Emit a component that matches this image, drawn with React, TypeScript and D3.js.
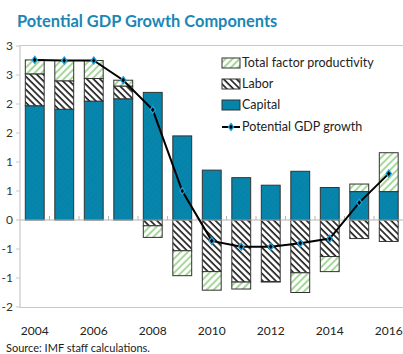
import React from "react";
import * as d3 from "d3";

const years = [2004, 2005, 2006, 2007, 2008, 2009, 2010, 2011, 2012, 2013, 2014, 2015, 2016];
const capital = [1.97, 1.91, 2.05, 2.09, 2.2, 1.45, 0.86, 0.73, 0.6, 0.84, 0.56, 0.49, 0.49];
const labor = [0.55, 0.49, 0.39, 0.22, -0.1, -0.53, -0.89, -1.07, -1.06, -0.91, -0.63, -0.32, -0.37];
const tfp = [0.24, 0.35, 0.31, 0.1, -0.2, -0.43, -0.32, -0.12, -0.01, -0.34, -0.26, 0.13, 0.67];
const potential = [2.76, 2.75, 2.75, 2.41, 1.9, 0.5, -0.36, -0.46, -0.46, -0.4, -0.32, 0.3, 0.8];
const yTicks = [3, 2.5, 2, 1.5, 1, 0.5, 0, -0.5, -1, -1.5];
const yTickLabels = ["3", "3", "2", "2", "1", "1", "0", "-1", "-1", "-2"];
const xLabelYears = [2004, 2006, 2008, 2010, 2012, 2014, 2016];
const seriesKeys = ["capital", "labor", "tfp"];
const legendItems = ["Total factor productivity", "Labor", "Capital", "Potential GDP growth"];

const W = 403;
const H = 354;
const FONT = "Lato, 'Open Sans', sans-serif";
const BLUE = "#0686ad";

export default function App() {
  const x = d3
    .scaleBand<number>()
    .domain(years)
    .range([20, 403.5])
    .paddingInner(0.36)
    .paddingOuter(0.18);
  const y = d3.scaleLinear().domain([-1.5, 3]).range([307, 46]);

  const table = years.map((yr, i) => ({ year: yr, capital: capital[i], labor: labor[i], tfp: tfp[i] }));
  const stacked = d3
    .stack<any>()
    .keys(seriesKeys)
    .offset(d3.stackOffsetDiverging)(table);

  const fills: Record<string, string> = {
    capital: "url(#capPat)",
    labor: "url(#laborPat)",
    tfp: "url(#tfpPat)",
  };

  const line = d3
    .line<number>()
    .x((_, i) => (x(years[i]) as number) + x.bandwidth() / 2)
    .y((d) => y(d));

  const diamond = (cx: number, cy: number) =>
    `M${cx},${cy - 3.5}L${cx + 2.6},${cy}L${cx},${cy + 3.5}L${cx - 2.6},${cy}Z`;

  const step = x.step();
  const boundaries = years.slice(1).map((yr) => (x(yr) as number) - (step - x.bandwidth()) / 2);

  const legendX = 222;
  const legendY = [63, 84, 105, 127];

  return (
    <svg
      width={W}
      height={H}
      style={{ position: "fixed", left: 0, top: 0, background: "#fff" }}
      fontFamily={FONT}
    >
      <defs>
        <pattern id="capPat" patternUnits="userSpaceOnUse" width="4" height="4" patternTransform="rotate(45)">
          <rect width="4" height="4" fill={BLUE} />
          <line x1="0" y1="0" x2="0" y2="4" stroke="#0a7ea3" strokeWidth="1.5" />
        </pattern>
        <pattern id="laborPat" patternUnits="userSpaceOnUse" width="4.6" height="4.6" patternTransform="rotate(-45)">
          <rect width="4.6" height="4.6" fill="#fff" />
          <line x1="1" y1="0" x2="1" y2="4.6" stroke="#222" strokeWidth="1.7" />
        </pattern>
        <pattern id="tfpPat" patternUnits="userSpaceOnUse" width="5" height="5" patternTransform="rotate(45)">
          <rect width="5" height="5" fill="#fff" />
          <line x1="1" y1="0" x2="1" y2="5" stroke="#a6d89a" strokeWidth="2" />
        </pattern>
      </defs>

      <text x={17} y={27} fontSize={16.4} fontWeight={700} fill="#1a87b5">
        Potential GDP Growth Components
      </text>

      {/* plot frame */}
      <line x1={20} x2={W} y1={y(3) - 0.5} y2={y(3) - 0.5} stroke="#c8c8c8" strokeWidth={1.2} />
      <line x1={20} x2={W} y1={y(-1.5) + 0.5} y2={y(-1.5) + 0.5} stroke="#c8c8c8" strokeWidth={1.2} />
      <line x1={20} x2={20} y1={y(3) - 0.5} y2={y(-1.5) + 0.5} stroke="#c8c8c8" strokeWidth={1.2} />

      {/* y ticks */}
      {yTicks.map((t, i) => (
        <g key={t}>
          <line x1={16} x2={20} y1={y(t)} y2={y(t)} stroke="#c8c8c8" />
          <text x={13} y={y(t)} dy="0.35em" textAnchor="end" fontSize={12} fill="#333">
            {yTickLabels[i]}
          </text>
        </g>
      ))}

      {/* bars */}
      {stacked.map((s) => (
        <g key={s.key}>
          {s.map((d, i) => {
            const y0 = y(Math.max(d[0], d[1]));
            const y1 = y(Math.min(d[0], d[1]));
            if (Math.abs(y1 - y0) < 0.01) return null;
            return (
              <rect
                key={i}
                x={x(years[i])}
                y={y0}
                width={x.bandwidth()}
                height={y1 - y0}
                fill={fills[s.key]}
                stroke="#333"
                strokeWidth={1}
              />
            );
          })}
        </g>
      ))}

      {/* zero axis */}
      <line x1={20} x2={W} y1={y(0)} y2={y(0)} stroke="#b5b5b5" strokeWidth={1.2} />
      {boundaries.map((b, i) => (
        <line key={i} x1={b} x2={b} y1={y(0)} y2={y(0) - 4} stroke="#b5b5b5" />
      ))}

      {/* potential line */}
      <path d={line(potential) || ""} fill="none" stroke="#000" strokeWidth={2} />
      {potential.map((v, i) => (
        <path
          key={i}
          d={diamond((x(years[i]) as number) + x.bandwidth() / 2, y(v))}
          fill="#000"
          stroke="#1c9fd6"
          strokeWidth={1.3}
        />
      ))}

      {/* x labels */}
      {xLabelYears.map((yr) => (
        <text
          key={yr}
          x={(x(yr) as number) + x.bandwidth() / 2}
          y={335}
          textAnchor="middle"
          fontSize={12}
          fill="#222"
        >
          {yr}
        </text>
      ))}

      {/* legend */}
      <g>
        <rect x={legendX} y={legendY[0] - 5} width={18} height={10} fill="url(#tfpPat)" stroke="#333" />
        <rect x={legendX} y={legendY[1] - 5} width={18} height={10} fill="url(#laborPat)" stroke="#333" />
        <rect x={legendX} y={legendY[2] - 5} width={18} height={10} fill="url(#capPat)" stroke="#333" />
        <line x1={legendX} x2={legendX + 18} y1={legendY[3]} y2={legendY[3]} stroke="#000" strokeWidth={2} />
        <path d={diamond(legendX + 9, legendY[3])} fill="#000" stroke="#1c9fd6" strokeWidth={1.3} />
        {legendItems.map((t, i) => (
          <text key={t} x={legendX + 20} y={legendY[i]} dy="0.35em" fontSize={12.5} fill="#222">
            {t}
          </text>
        ))}
      </g>

      <text x={6} y={352} fontSize={11} fill="#222">
        Source: IMF staff calculations.
      </text>
    </svg>
  );
}
